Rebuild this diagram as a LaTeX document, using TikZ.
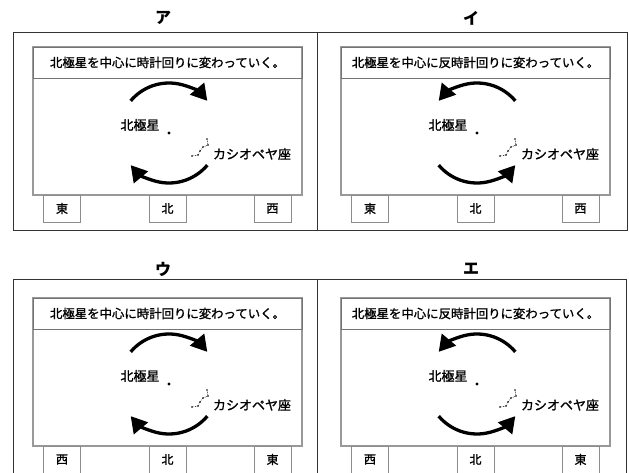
\documentclass[tikz,border=0pt]{standalone}
\usepackage{fontspec}
\setmainfont{Noto Sans CJK JP}
\newfontfamily\dick[FakeBold=1.2]{Noto Sans CJK JP}
\usepackage{tikz}
\usetikzlibrary{arrows.meta}
\newcommand*{\himmelTafel}[8]{% #1 = name, #2 = shift, #3 = title, #4 = word, #5 = start angle, #6 = end angle, #7 = left, #8 = right
   \begin{scope}[shift={#2}]
      \node[titel] (#1titel) at (163,454) {#3};
      \draw[schirm] (33,277) rectangle (302,425);
      \node[textfeld] (#1text) at (167.5,409.5) {北極星を中心に#4回りに変わっていく。};
      \node[richtung] (#1links) at (62,263.5) {#7};
      \node[richtung] (#1mitte) at (167.5,263.5) {北};
      \node[richtung] (#1rechts) at (272.5,263.5) {#8};
      \node[stern] (#1stern) at (169,339) {};
      \node[beschriftung] (#1polar) at (140,347) {北極星};
      \node[beschriftung] (#1kas) at (252,318) {カシオペヤ座};
      \draw[pfeil] (#1stern.center) ++(#5:50pt) arc[start angle=#5, end angle=#6, radius=50pt];
      \draw[pfeil] (#1stern.center) ++(-#6:50pt) arc[start angle=-#6, end angle=-#5, radius=50pt];
      \draw[sternbild] (192,316) -- (198,317) -- (200,321) -- (203,325) -- (208,327) -- (207,333);
      \foreach \p in {(192,316),(198,317),(200,321),(203,325),(208,327),(207,333)}
         \fill \p circle[radius=0.8pt];
   \end{scope}
}

\begin{document}
\begin{tikzpicture}[
		x=1pt,
		y=1pt,
		thin
	]
		\tikzstyle{rahmen}=[draw=black!80, line width=0.8pt]
		\tikzstyle{schirm}=[draw=black!40, line width=1.6pt]
		\tikzstyle{textfeld}=[
			draw=black!55,
			line width=0.8pt,
			minimum width=269pt,
			minimum height=31pt,
			inner sep=0pt,
			font=\fontsize{12.4pt}{14pt}\selectfont\dick
		]
		\tikzstyle{richtung}=[
			draw=black!45,
			line width=0.8pt,
			minimum width=37pt,
			minimum height=27pt,
			inner sep=0pt,
			font=\fontsize{12pt}{14pt}\selectfont\dick
		]
		\tikzstyle{titel}=[font=\fontsize{16pt}{18pt}\selectfont\bfseries, inner sep=0pt]
		\tikzstyle{beschriftung}=[font=\fontsize{13pt}{15pt}\selectfont\dick, inner sep=0pt]
		\tikzstyle{stern}=[circle, fill, minimum size=3.4pt, inner sep=0pt]
		\tikzstyle{pfeil}=[line width=3.3pt, -{Triangle[length=16pt, width=18pt]}]
		\tikzstyle{sternbild}=[densely dotted, line width=0.6pt]

		\useasboundingbox (0,0) rectangle (629,472);
		\clip (0,0) rectangle (629,472);
		\fill[white] (0,0) rectangle (629,472);

		\draw[rahmen] (13,242) rectangle (627,440);
		\draw[rahmen] (317,242) -- (317,440);
		\draw[rahmen] (13,-10) rectangle (626,193);
		\draw[rahmen] (317,-10) -- (317,193);

		\himmelTafel{a}{(0,0)}{ア}{時計}{140}{40}{東}{西}
		\himmelTafel{i}{(308,0)}{イ}{反時計}{40}{140}{東}{西}
		\himmelTafel{u}{(0,-251)}{ウ}{時計}{140}{40}{西}{東}
		\himmelTafel{e}{(308,-251)}{エ}{反時計}{40}{140}{西}{東}
	\end{tikzpicture}
\end{document}
